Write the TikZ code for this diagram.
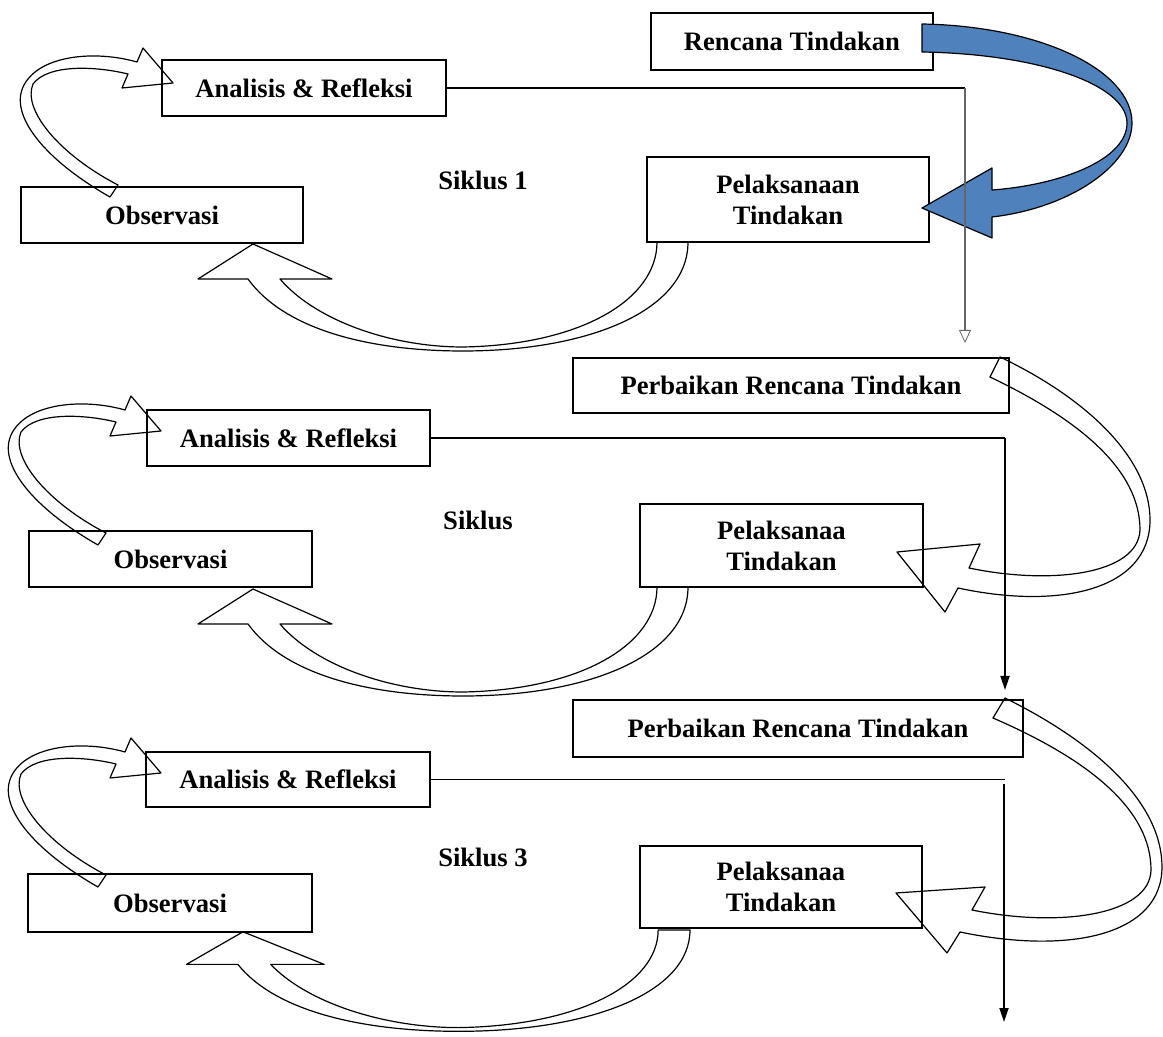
\documentclass[tikz,border=0pt]{standalone}
\usepackage{fontspec}
\setmainfont{Liberation Serif}
\usetikzlibrary{arrows.meta}
\definecolor{biru}{RGB}{79,129,189}
\tikzset{>=Stealth}
\tikzset{
  kotak/.style={draw, line width=0.6pt, align=center, inner sep=0pt,
    font=\bfseries\fontsize{13.3}{15.5}\selectfont},
  siklus/.style={inner sep=0pt, font=\bfseries\fontsize{13.3}{15.5}\selectfont},
  panah/.style={draw, line width=0.6pt, line join=round},
  panahbiru/.style={draw=black, fill=biru, line width=0.6pt, line join=round},
  garisabu/.style={draw=gray!80!black, line width=1.1pt,
    -{Triangle[open, length=6.5pt, width=6pt, line width=0.4pt]}},
  garishitam/.style={line width=0.9pt, -{Triangle[length=7pt, width=4.5pt]}}
}

\begin{document}
\begin{tikzpicture}[x=0.5pt, y=-0.5pt]
  \useasboundingbox (0,0) rectangle (1163,1037);

  % siklus 1
  \node[kotak, minimum width=141pt, minimum height=28.5pt] (ren) at (792,41.5) {Rencana Tindakan};
  \node[kotak, minimum width=142pt, minimum height=28pt] (ana1) at (304,88) {Analisis \& Refleksi};
  \node[kotak, minimum width=141pt, minimum height=28pt] (obs1) at (162,215) {Observasi};
  \node[kotak, minimum width=141pt, minimum height=42.5pt] (pel1) at (788,199.5) {Pelaksanaan\\Tindakan};
  \node[siklus] (sik1) at (483,180) {Siklus 1};

  % siklus 2
  \node[kotak, minimum width=218pt, minimum height=27.5pt] (per2) at (791,385.5) {Perbaikan Rencana Tindakan};
  \node[kotak, minimum width=141.5pt, minimum height=28pt] (ana2) at (288.5,438) {Analisis \& Refleksi};
  \node[kotak, minimum width=141.5pt, minimum height=28pt] (obs2) at (170.5,559) {Observasi};
  \node[kotak, minimum width=141.5pt, minimum height=41.5pt] (pel2) at (781.5,545.5) {Pelaksanaa\\Tindakan};
  \node[siklus] (sik2) at (478,520) {Siklus};

  % siklus 3
  \node[kotak, minimum width=225pt, minimum height=28.5pt] (per3) at (798,728.5) {Perbaikan Rencana Tindakan};
  \node[kotak, minimum width=142pt, minimum height=27.5pt] (ana3) at (288,779.5) {Analisis \& Refleksi};
  \node[kotak, minimum width=142pt, minimum height=29pt] (obs3) at (170,903) {Observasi};
  \node[kotak, minimum width=141pt, minimum height=41pt] (pel3) at (781,887) {Pelaksanaa\\Tindakan};
  \node[siklus] (sik3) at (483,857) {Siklus 3};

  % panah observasi ke analisis
  \foreach \dy/\dx in {0/0, 348/-12, 690/-12}{
    \begin{scope}[shift={(\dx,\dy)}]
      \draw[panah] (110,197) .. controls (45,160) and (8,115) .. (24,85)
        .. controls (40,55) and (95,50) .. (137,62) -- (143,48) -- (173,83)
        -- (122,88) -- (128,74) .. controls (95,66) and (48,64) .. (33,84)
        .. controls (22,110) and (60,155) .. (118,185) -- cycle;
    \end{scope}
  }

  % panah pelaksanaan ke observasi
  \foreach \dy/\dx/\sx/\sy in {0/0/1/1, 345/0/1/1, 704.9/-17/1.0276/0.93}{
    \begin{scope}[shift={(\dx,\dy)}, xscale=\sx, yscale=\sy]
      \draw[panah] (657,242) .. controls (657,300) and (580,345) .. (463,347)
        .. controls (390,347) and (315,320) .. (280,279) -- (332,279) -- (253,244)
        -- (198,279) -- (248,279) .. controls (285,330) and (370,351) .. (463,351)
        .. controls (590,351) and (688,310) .. (688,242) -- cycle;
    \end{scope}
  }

  % panah perbaikan ke pelaksanaan
  \draw[panah] (1000,357) .. controls (1090,400) and (1150,460) .. (1150,520)
    .. controls (1150,590) and (1060,610) .. (958,588) -- (945,612) -- (897,552)
    -- (980,544) -- (969,568) .. controls (1050,585) and (1138,575) .. (1140,530)
    .. controls (1140,470) and (1080,420) .. (990,377) -- cycle;
  \draw[panah] (1005,698) .. controls (1100,745) and (1162,805) .. (1162,867)
    .. controls (1162,935) and (1070,955) .. (960,932) -- (947,953) -- (896,893)
    -- (985,887) -- (972,910) .. controls (1060,928) and (1150,915) .. (1151,870)
    .. controls (1151,810) and (1090,760) .. (993,718) -- cycle;

  % panah biru
  \draw[panahbiru] (922,24) .. controls (1040,26) and (1132,70) .. (1132,123)
    .. controls (1132,165) and (1070,208) .. (992,217) -- (992,238) -- (922,208)
    -- (992,168) -- (992,190) .. controls (1060,185) and (1127,160) .. (1127,123)
    .. controls (1127,85) and (1040,54) .. (922,52) -- cycle;

  % garis refleksi ke perbaikan
  \coordinate (belok1) at (965,88);
  \coordinate (ujung1) at (965,343);
  \coordinate (belok2) at (1005,438);
  \coordinate (ujung2) at (1005,690);
  \coordinate (belok3) at (1005,779.5);
  \coordinate (turun3) at (1004,784);
  \coordinate (ujung3) at (1004,1022);

  \draw[line width=0.6pt] (ana1.east) -- (belok1);
  \draw[garisabu] (belok1) -- (ujung1);
  \draw[line width=0.6pt] (ana2.east) -- (belok2);
  \draw[garishitam] (belok2) -- (ujung2);
  \draw[line width=0.6pt] (ana3.east) -- (belok3);
  \draw[garishitam] (turun3) -- (ujung3);
\end{tikzpicture}
\end{document}
